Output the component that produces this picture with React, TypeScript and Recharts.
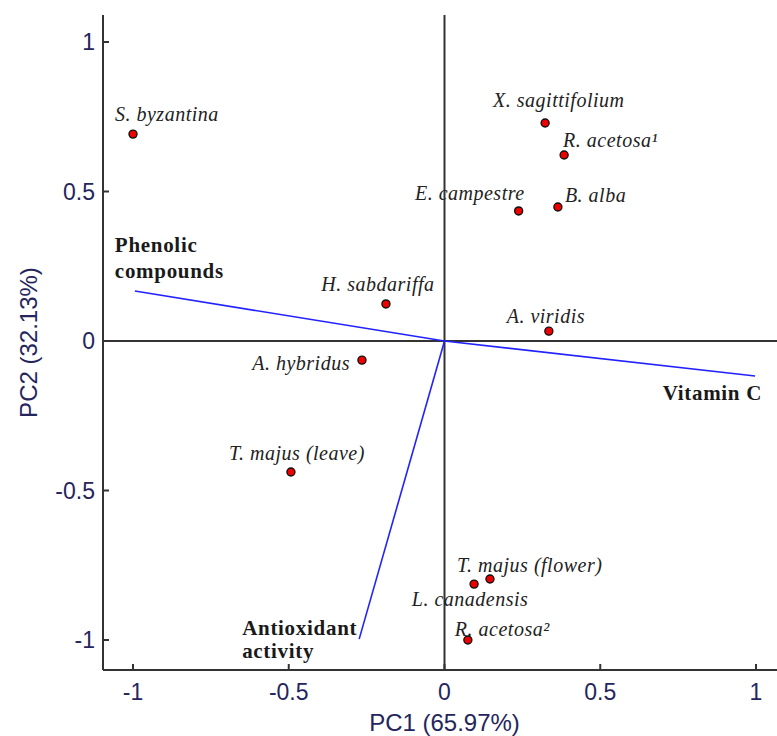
import React from 'react';
import { ScatterChart, Scatter, XAxis, YAxis, ReferenceLine } from 'recharts';

// ---------- data ----------
const sampleNames = [
  'S. byzantina',
  'X. sagittifolium',
  'R. acetosa¹',
  'E. campestre',
  'B. alba',
  'H. sabdariffa',
  'A. hybridus',
  'T. majus (leave)',
  'A. viridis',
  'T. majus (flower)',
  'L. canadensis',
  'R. acetosa²',
];
const pc1Scores = [-1.0, 0.323, 0.384, 0.238, 0.364, -0.188, -0.265, -0.493, 0.335, 0.146, 0.095, 0.075];
const pc2Scores = [0.692, 0.729, 0.622, 0.435, 0.448, 0.124, -0.064, -0.438, 0.033, -0.796, -0.813, -1.0];

const loadingNames = ['Phenolic compounds', 'Vitamin C', 'Antioxidant activity'];
const loadingPC1 = [-0.994, 0.997, -0.274];
const loadingPC2 = [0.167, -0.117, -0.997];

const axisTicks = [-1, -0.5, 0, 0.5, 1];
const topTicks = [-1, -0.5, 0.5, 1];
const xTitle = 'PC1 (65.97%)';
const yTitle = 'PC2 (32.13%)';

// ---------- layout (pixels, relative to the point) ----------
const sampleLabelLayout: Record<string, { dx: number; dy: number; anchor: 'start' | 'middle' | 'end' }> = {
  'S. byzantina': { dx: -18, dy: -20, anchor: 'start' },
  'X. sagittifolium': { dx: -52, dy: -23, anchor: 'start' },
  'R. acetosa¹': { dx: -1, dy: -15, anchor: 'start' },
  'E. campestre': { dx: 6, dy: -18, anchor: 'end' },
  'B. alba': { dx: 7, dy: -12, anchor: 'start' },
  'H. sabdariffa': { dx: -8, dy: -20, anchor: 'middle' },
  'A. hybridus': { dx: -12, dy: 3, anchor: 'end' },
  'T. majus (leave)': { dx: 6, dy: -19, anchor: 'middle' },
  'A. viridis': { dx: -3, dy: -15, anchor: 'middle' },
  'T. majus (flower)': { dx: -33, dy: -14, anchor: 'start' },
  'L. canadensis': { dx: -4, dy: 15, anchor: 'middle' },
  'R. acetosa²': { dx: -13, dy: -11, anchor: 'start' },
};

const loadingLabelLayout: Record<string, { lines: string[]; dx: number; dys: number[]; anchor: 'start' | 'end' }> = {
  'Phenolic compounds': { lines: ['Phenolic', 'compounds'], dx: -20, dys: [-46, -20], anchor: 'start' },
  'Vitamin C': { lines: ['Vitamin C'], dx: 7, dys: [17], anchor: 'end' },
  'Antioxidant activity': { lines: ['Antioxidant', 'activity'], dx: -117, dys: [-11, 12], anchor: 'start' },
};

const sampleData = sampleNames.map((name, i) => ({ name, x: pc1Scores[i], y: pc2Scores[i] }));
const loadingData = loadingNames.map((name, i) => [
  { name, x: 0, y: 0, end: false },
  { name, x: loadingPC1[i], y: loadingPC2[i], end: true },
]);

const W = 777;
const H = 736;
const X_DOMAIN: [number, number] = [-1.0963, 1.0674];
const Y_DOMAIN: [number, number] = [-1.1003, 1.0903];

const AXIS_COLOR = '#333333';
const TICK_COLOR = '#25255e';
const TICK_FONT = 'Liberation Sans, Arial, sans-serif';
const SERIF = 'Liberation Serif, Times New Roman, serif';

const BottomTick = (props: any) => {
  const { x, y, payload } = props;
  return (
    <g>
      <line x1={x} y1={y} x2={x} y2={y - 6} stroke={AXIS_COLOR} strokeWidth={2} />
      <text x={x} y={y + 22} textAnchor="middle" dominantBaseline="central" fontFamily={TICK_FONT} fontSize={23} fill={TICK_COLOR}>
        {String(payload.value)}
      </text>
    </g>
  );
};

const TopTick = (props: any) => {
  const { x, y } = props;
  return <line x1={x} y1={y} x2={x} y2={y + 6} stroke={AXIS_COLOR} strokeWidth={2} />;
};

const LeftTick = (props: any) => {
  const { x, y, payload } = props;
  return (
    <g>
      <line x1={x} y1={y} x2={x + 6} y2={y} stroke={AXIS_COLOR} strokeWidth={2} />
      <text x={x - 8} y={y} textAnchor="end" dominantBaseline="central" fontFamily={TICK_FONT} fontSize={23} fill={TICK_COLOR}>
        {String(payload.value)}
      </text>
    </g>
  );
};

const SampleShape = (props: any) => {
  const { cx, cy, payload } = props;
  const lay = sampleLabelLayout[payload.name];
  return (
    <g>
      <circle cx={cx} cy={cy} r={4} fill="#ee0000" stroke="#111111" strokeWidth={1.4} />
      <text
        x={cx + lay.dx}
        y={cy + lay.dy}
        textAnchor={lay.anchor}
        dominantBaseline="central"
        fontFamily={SERIF}
        fontStyle="italic"
        fontSize={20}
        letterSpacing={0.5}
        fill="#222222"
      >
        {payload.name}
      </text>
    </g>
  );
};

const LoadingShape = (props: any) => {
  const { cx, cy, payload } = props;
  if (!payload.end) return <g />;
  const lay = loadingLabelLayout[payload.name];
  return (
    <g>
      {lay.lines.map((ln, i) => (
        <text
          key={ln}
          x={cx + lay.dx}
          y={cy + lay.dys[i]}
          textAnchor={lay.anchor}
          dominantBaseline="central"
          fontFamily={SERIF}
          fontWeight="bold"
          fontSize={21}
          letterSpacing={0.7}
          fill="#1a1a1a"
        >
          {ln}
        </text>
      ))}
    </g>
  );
};

const XTitle = (props: any) => {
  const { viewBox } = props;
  return (
    <text x={viewBox.x + 341.5} y={viewBox.y + 52} textAnchor="middle" dominantBaseline="central" fontFamily={TICK_FONT} fontSize={24} fill={TICK_COLOR}>
      {xTitle}
    </text>
  );
};

const YTitle = (props: any) => {
  const { viewBox } = props;
  const cx = viewBox.x + 28;
  const cy = viewBox.y + viewBox.height / 2;
  return (
    <text x={cx} y={cy} transform={`rotate(-90 ${cx} ${cy})`} textAnchor="middle" dominantBaseline="central" fontFamily={TICK_FONT} fontSize={24} fill={TICK_COLOR}>
      {yTitle}
    </text>
  );
};

export default function App() {
  return (
    <div style={{ position: 'absolute', left: 0, top: 0, width: W, height: H, background: '#ffffff' }}>
      <ScatterChart width={W} height={H} margin={{ top: 15, right: 0, bottom: 0, left: 0 }}>
        <XAxis
          type="number"
          dataKey="x"
          domain={X_DOMAIN}
          ticks={axisTicks}
          allowDataOverflow
          height={66}
          tickSize={0}
          tickMargin={0}
          tick={<BottomTick />}
          axisLine={{ stroke: AXIS_COLOR, strokeWidth: 2 }}
          tickLine={false}
          interval={0}
          label={(p: any) => <XTitle {...p} />}
        />
        <XAxis
          xAxisId="top"
          orientation="top"
          type="number"
          dataKey="x"
          domain={X_DOMAIN}
          ticks={topTicks}
          allowDataOverflow
          height={0}
          tickSize={0}
          tickMargin={0}
          tick={<TopTick />}
          axisLine={{ stroke: AXIS_COLOR, strokeWidth: 2 }}
          tickLine={false}
          interval={0}
        />
        <YAxis
          type="number"
          dataKey="y"
          domain={Y_DOMAIN}
          ticks={axisTicks}
          allowDataOverflow
          width={103}
          tickSize={0}
          tickMargin={0}
          tick={<LeftTick />}
          axisLine={{ stroke: AXIS_COLOR, strokeWidth: 2 }}
          tickLine={false}
          interval={0}
          label={(p: any) => <YTitle {...p} />}
        />
        <ReferenceLine x={0} stroke={AXIS_COLOR} strokeWidth={2} />
        <ReferenceLine y={0} stroke={AXIS_COLOR} strokeWidth={2} />
        {loadingData.map((d, i) => (
          <Scatter
            key={loadingNames[i]}
            data={d}
            line={{ stroke: '#2222ff', strokeWidth: 1.6 }}
            shape={<LoadingShape />}
            isAnimationActive={false}
          />
        ))}
        <Scatter data={sampleData} shape={<SampleShape />} isAnimationActive={false} />
      </ScatterChart>
    </div>
  );
}
